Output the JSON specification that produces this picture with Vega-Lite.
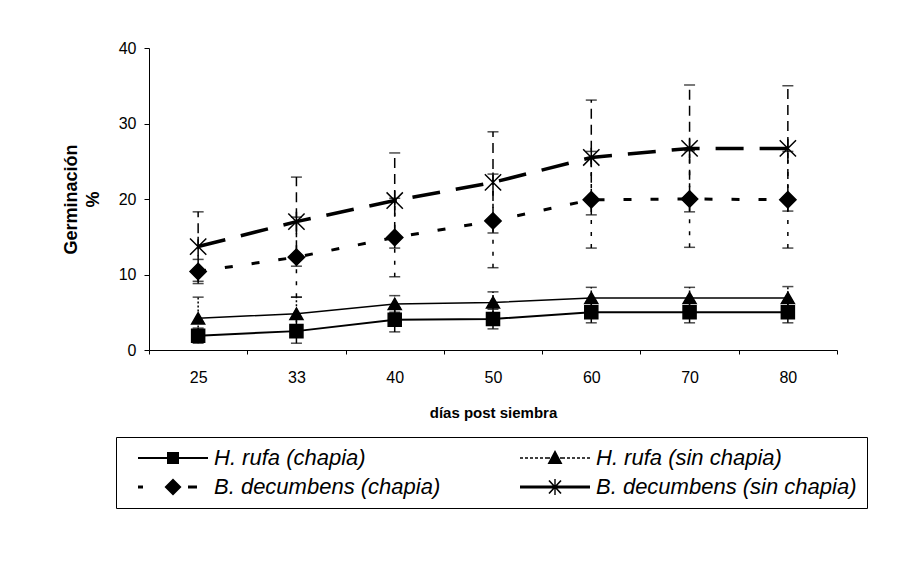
{
  "$schema": "https://vega.github.io/schema/vega-lite/v6.json",
  "width": 688,
  "height": 302,
  "autosize": {"type": "none"},
  "padding": {"left": 149, "top": 48, "right": 76, "bottom": 213},
  "background": "white",
  "config": {
    "view": {"stroke": null},
    "font": "Liberation Sans",
    "axis": {
      "domainColor": "black", "tickColor": "black", "labelColor": "black", "titleColor": "black",
      "labelFont": "Liberation Sans", "titleFont": "Liberation Sans", "grid": false,
      "labelFontSize": 16, "titleFontWeight": "bold", "domainWidth": 1, "tickWidth": 1
    }
  },
  "data": {
    "values": [
      {"series": "H. rufa (chapia)", "dia": 25, "mean": 1.9, "lo": 0.9, "hi": 2.9},
      {"series": "H. rufa (chapia)", "dia": 33, "mean": 2.5, "lo": 0.9, "hi": 4.1},
      {"series": "H. rufa (chapia)", "dia": 40, "mean": 4.0, "lo": 2.4, "hi": 5.6},
      {"series": "H. rufa (chapia)", "dia": 50, "mean": 4.1, "lo": 2.8, "hi": 5.4},
      {"series": "H. rufa (chapia)", "dia": 60, "mean": 5.0, "lo": 3.6, "hi": 6.4},
      {"series": "H. rufa (chapia)", "dia": 70, "mean": 5.0, "lo": 3.6, "hi": 6.4},
      {"series": "H. rufa (chapia)", "dia": 80, "mean": 5.0, "lo": 3.6, "hi": 6.4},
      {"series": "H. rufa (sin chapia)", "dia": 25, "mean": 4.2, "lo": 1.4, "hi": 7.0},
      {"series": "H. rufa (sin chapia)", "dia": 33, "mean": 4.8, "lo": 2.6, "hi": 7.0},
      {"series": "H. rufa (sin chapia)", "dia": 40, "mean": 6.1, "lo": 5.0, "hi": 7.2},
      {"series": "H. rufa (sin chapia)", "dia": 50, "mean": 6.3, "lo": 4.9, "hi": 7.7},
      {"series": "H. rufa (sin chapia)", "dia": 60, "mean": 6.9, "lo": 5.5, "hi": 8.3},
      {"series": "H. rufa (sin chapia)", "dia": 70, "mean": 6.9, "lo": 5.5, "hi": 8.3},
      {"series": "H. rufa (sin chapia)", "dia": 80, "mean": 6.9, "lo": 5.4, "hi": 8.4},
      {"series": "B. decumbens (chapia)", "dia": 25, "mean": 10.4, "lo": 8.8, "hi": 12.0},
      {"series": "B. decumbens (chapia)", "dia": 33, "mean": 12.3, "lo": 7.0, "hi": 17.6},
      {"series": "B. decumbens (chapia)", "dia": 40, "mean": 14.9, "lo": 9.7, "hi": 20.1},
      {"series": "B. decumbens (chapia)", "dia": 50, "mean": 17.1, "lo": 10.9, "hi": 23.3},
      {"series": "B. decumbens (chapia)", "dia": 60, "mean": 19.9, "lo": 13.5, "hi": 26.3},
      {"series": "B. decumbens (chapia)", "dia": 70, "mean": 20.0, "lo": 13.6, "hi": 26.4},
      {"series": "B. decumbens (chapia)", "dia": 80, "mean": 19.9, "lo": 13.5, "hi": 26.3},
      {"series": "B. decumbens (sin chapia)", "dia": 25, "mean": 13.7, "lo": 9.1, "hi": 18.3},
      {"series": "B. decumbens (sin chapia)", "dia": 33, "mean": 17.0, "lo": 11.1, "hi": 22.9},
      {"series": "B. decumbens (sin chapia)", "dia": 40, "mean": 19.8, "lo": 13.5, "hi": 26.1},
      {"series": "B. decumbens (sin chapia)", "dia": 50, "mean": 22.2, "lo": 15.5, "hi": 28.9},
      {"series": "B. decumbens (sin chapia)", "dia": 60, "mean": 25.5, "lo": 17.9, "hi": 33.1},
      {"series": "B. decumbens (sin chapia)", "dia": 70, "mean": 26.7, "lo": 18.3, "hi": 35.1},
      {"series": "B. decumbens (sin chapia)", "dia": 80, "mean": 26.7, "lo": 18.4, "hi": 35.0}
    ]
  },
  "encoding": {
    "x": {
      "field": "dia", "type": "ordinal",
      "scale": {"type": "band", "paddingInner": 0, "paddingOuter": 0},
      "axis": {
        "title": "días post siembra", "titleFontSize": 15, "titlePadding": 20,
        "labelAngle": 0, "tickBand": "extent", "tickSize": 4, "labelPadding": 15
      }
    },
    "y": {
      "field": "mean", "type": "quantitative",
      "scale": {"domain": [0, 40], "nice": false},
      "axis": {
        "title": ["Germinación", "%"], "titleFontSize": 18, "titleLineHeight": 22,
        "titlePadding": 16, "values": [0, 10, 20, 30, 40], "tickSize": 5, "labelPadding": 8
      }
    }
  },
  "layer": [
    {
      "mark": {"type": "rule", "color": "black", "strokeWidth": 1.5},
      "encoding": {
        "y": {"field": "lo", "type": "quantitative"},
        "y2": {"field": "hi"},
        "strokeDash": {
          "field": "series", "type": "nominal", "legend": null,
          "scale": {
            "domain": ["H. rufa (chapia)", "H. rufa (sin chapia)", "B. decumbens (chapia)", "B. decumbens (sin chapia)"],
            "range": [[1, 0], [2, 2], [4, 8], [10, 6]]
          }
        }
      }
    },
    {
      "mark": {"type": "tick", "color": "black", "size": 11, "thickness": 1.5},
      "encoding": {"y": {"field": "lo", "type": "quantitative"}}
    },
    {
      "mark": {"type": "tick", "color": "black", "size": 11, "thickness": 1.5},
      "encoding": {"y": {"field": "hi", "type": "quantitative"}}
    },
    {
      "transform": [{"filter": "datum.series === 'H. rufa (chapia)'"}],
      "mark": {"type": "line", "color": "black", "strokeWidth": 2},
      "encoding": {}
    },
    {
      "transform": [{"filter": "datum.series === 'H. rufa (sin chapia)'"}],
      "mark": {"type": "line", "color": "black", "strokeWidth": 1.5},
      "encoding": {}
    },
    {
      "transform": [{"filter": "datum.series === 'B. decumbens (chapia)'"}],
      "mark": {"type": "line", "color": "black", "strokeWidth": 3, "strokeDash": [8, 19]},
      "encoding": {}
    },
    {
      "transform": [{"filter": "datum.series === 'B. decumbens (sin chapia)'"}],
      "mark": {"type": "line", "color": "black", "strokeWidth": 3.5, "strokeDash": [28, 16]},
      "encoding": {}
    },
    {
      "mark": {"type": "point", "filled": true, "fill": "black", "stroke": "black", "strokeWidth": 1.5, "size": 170, "opacity": 1},
      "encoding": {
        "shape": {
          "field": "series", "type": "nominal", "legend": null,
          "scale": {
            "domain": ["H. rufa (chapia)", "H. rufa (sin chapia)", "B. decumbens (chapia)", "B. decumbens (sin chapia)"],
            "range": ["square", "triangle-up", "M-1.25,0L0,-1.25L1.25,0L0,1.25Z", "M-1.25,-1.25L1.25,1.25M-1.25,1.25L1.25,-1.25M0,-1.5L0,1.5"]
          }
        }
      }
    },
    {
      "mark": {"type": "point", "filled": true, "fill": "black", "stroke": "black", "strokeWidth": 0, "opacity": 1, "size": 0},
      "encoding": {
        "shape": {
          "field": "series", "type": "nominal",
          "scale": {
            "domain": ["H. rufa (chapia)", "H. rufa (sin chapia)", "B. decumbens (chapia)", "B. decumbens (sin chapia)"],
            "range": [
              "M-3.5,-0.1H3.5V0.1H-3.5ZM-0.6,-0.6H0.6V0.6H-0.6Z",
              "M-3.5,-0.07H-3.2V0.07H-3.5ZM-3,-0.07H-2.7V0.07H-3ZM-2.5,-0.07H-2.2V0.07H-2.5ZM-2,-0.07H-1.7V0.07H-2ZM-1.5,-0.07H-1.2V0.07H-1.5ZM-1,-0.07H-0.5V0.07H-1ZM0.5,-0.07H1V0.07H0.5ZM1.2,-0.07H1.5V0.07H1.2ZM1.7,-0.07H2V0.07H1.7ZM2.2,-0.07H2.5V0.07H2.2ZM2.7,-0.07H3V0.07H2.7ZM3.2,-0.07H3.5V0.07H3.2ZM0,-0.8L0.75,0.6H-0.75Z",
              "M-3.5,-0.15H-3V0.15H-3.5ZM1.5,-0.15H2.4V0.15H1.5ZM-0.85,0L0,-0.85L0.85,0L0,0.85Z",
              "M-3.5,-0.15H3.5V0.15H-3.5ZM-0.66,-0.595L-0.54,-0.705L0.66,0.595L0.54,0.705ZM-0.54,0.705L-0.66,0.595L0.54,-0.705L0.66,-0.595ZM-0.07,-0.8H0.07V0.8H-0.07Z"
            ]
          },
          "legend": {
            "title": null, "orient": "none", "legendX": -33, "legendY": 389, "columns": 2, "direction": "horizontal",
            "columnPadding": 67, "rowPadding": 7, "padding": 10, "symbolOffset": 36,
            "strokeColor": "black", "fillColor": "white", "symbolSize": 400,
            "symbolFillColor": "black", "symbolStrokeWidth": 0, "symbolOpacity": 1,
            "labelFont": "Liberation Sans", "labelFontSize": 22, "labelFontStyle": "italic",
            "labelColor": "black", "labelLimit": 400, "labelOffset": 30,
            "encode": {"symbols": {"update": {"fill": {"value": "black"}, "opacity": {"value": 1}}}}
          }
        }
      }
    }
  ],
  "resolve": {"scale": {"shape": "independent", "strokeDash": "independent"}}
}
